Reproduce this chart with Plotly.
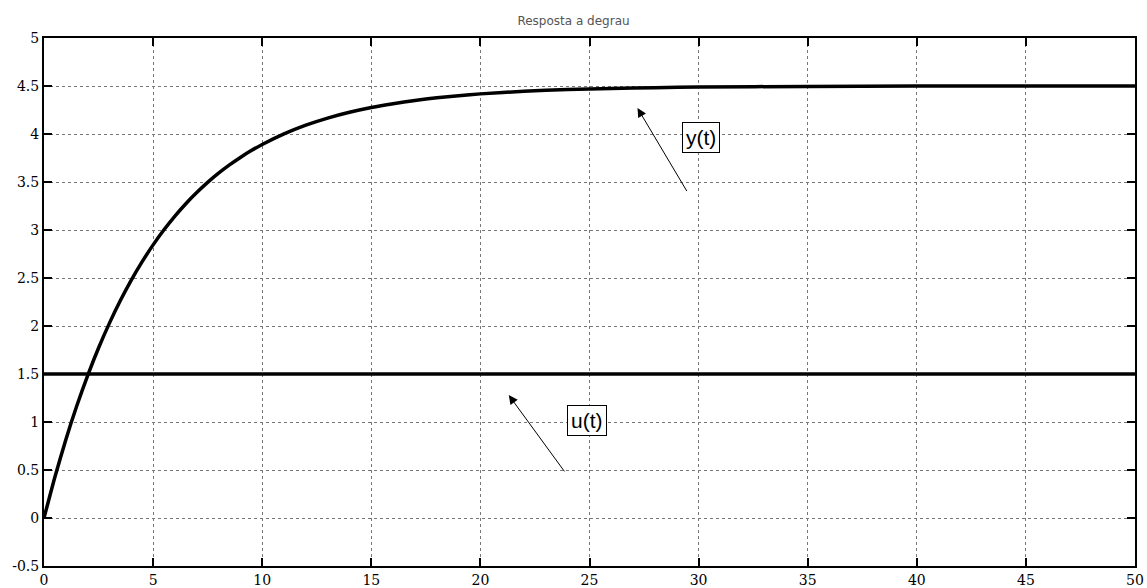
import plotly.graph_objects as go

# time samples (s)
t = [0, 0.5, 1, 1.5, 2, 2.5, 3, 3.5, 4, 4.5, 5, 5.5, 6, 6.5, 7, 7.5, 8, 8.5, 9, 9.5, 10,
     11, 12, 13, 14, 15, 16, 17, 18, 19, 20, 22, 24, 26, 28, 30, 35, 40, 45, 50]
# step response y(t)
y_vals = [0.000, 0.428, 0.816, 1.166, 1.484, 1.771, 2.030, 2.265, 2.478, 2.670, 2.845,
          3.002, 3.145, 3.274, 3.390, 3.496, 3.592, 3.678, 3.756, 3.827, 3.891,
          4.001, 4.092, 4.166, 4.226, 4.276, 4.316, 4.350, 4.377, 4.399, 4.418,
          4.445, 4.463, 4.475, 4.483, 4.489, 4.496, 4.499, 4.500, 4.500]
# input u(t)
u_t = [0, 50]
u_vals = [1.5, 1.5]

x_ticks = [0, 5, 10, 15, 20, 25, 30, 35, 40, 45, 50]
y_ticks = [-0.5, 0, 0.5, 1, 1.5, 2, 2.5, 3, 3.5, 4, 4.5, 5]
y_tick_text = ["-0.5", "0", "0.5", "1", "1.5", "2", "2.5", "3", "3.5", "4", "4.5", "5"]

fig = go.Figure()
fig.add_trace(go.Scatter(x=t, y=y_vals, mode="lines", line=dict(color="black", width=3.5, shape="spline",
                         smoothing=0.6), showlegend=False))
fig.add_trace(go.Scatter(x=u_t, y=u_vals, mode="lines", line=dict(color="black", width=3.5),
                         showlegend=False))

fig.add_annotation(x=27.2, y=4.27, ax=29.5, ay=3.39, axref="x", ayref="y", xref="x", yref="y",
                   text="", showarrow=True, arrowhead=2, arrowsize=1.8, arrowwidth=1, arrowcolor="black")
fig.add_annotation(x=21.3, y=1.28, ax=23.9, ay=0.47, axref="x", ayref="y", xref="x", yref="y",
                   text="", showarrow=True, arrowhead=2, arrowsize=1.8, arrowwidth=1, arrowcolor="black")
fig.add_annotation(x=30.1, y=3.96, text="y(t)", showarrow=False, font=dict(size=21, color="black",
                   family="Liberation Sans Narrow, Liberation Sans"), bordercolor="black", borderwidth=1,
                   borderpad=3, bgcolor="white")
fig.add_annotation(x=24.9, y=1.02, text="u(t)", showarrow=False, font=dict(size=21, color="black",
                   family="Liberation Sans Narrow, Liberation Sans"), bordercolor="black", borderwidth=1,
                   borderpad=3, bgcolor="white")

fig.update_layout(
    width=1147, height=588,
    margin=dict(l=44, r=12, t=38, b=22, autoexpand=False),
    paper_bgcolor="white", plot_bgcolor="white",
    title=dict(text="Resposta a degrau", x=0.5, xanchor="center", y=0.972, yanchor="top",
               font=dict(size=12, color="#555", family="DejaVu Sans")),
    font=dict(family="DejaVu Serif", size=14, color="black"),
)
fig.update_xaxes(range=[0, 50], tickvals=x_ticks, ticks="inside", ticklen=8, tickwidth=2, tickcolor="black",
                 showline=True, linecolor="black", linewidth=2, mirror="ticks", automargin=False,
                 showgrid=True, gridcolor="#777", griddash="dot", gridwidth=1, zeroline=False)
fig.update_yaxes(range=[-0.5, 5], tickvals=y_ticks, ticktext=y_tick_text, ticks="inside", ticklen=8, tickwidth=2,
                 tickcolor="black", showline=True, linecolor="black", linewidth=2, mirror="ticks",
                 automargin=False, showgrid=True, gridcolor="#777", griddash="dot", gridwidth=1, zeroline=False)

fig.write_html("out.html", config={"displayModeBar": False},
               post_script="document.body.style.margin='0';document.body.style.overflow='hidden';")
